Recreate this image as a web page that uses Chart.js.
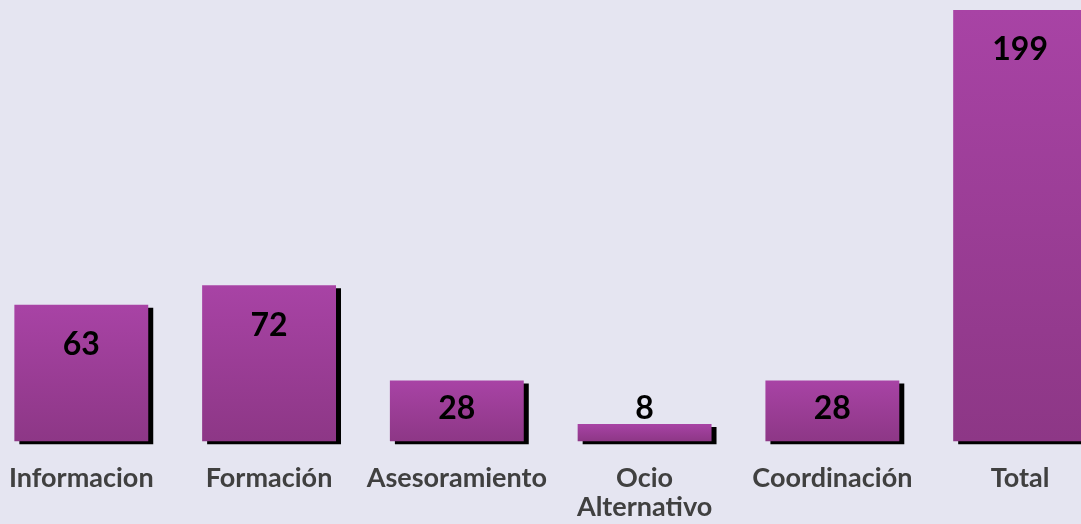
<!DOCTYPE html>
<html>
<head>
<meta charset="utf-8">
<script src="https://cdn.jsdelivr.net/npm/chart.js@4"></script>
<style>
  html, body { margin: 0; padding: 0; background: #E5E5F1; overflow: hidden; }
  #wrap { position: absolute; left: -14px; top: 0; width: 1128px; height: 544px; }
</style>
</head>
<body>
<div id="wrap"><canvas id="barras"></canvas></div>
<script>
// categorías y valores
const categorias = ['Informacion', 'Formación', 'Asesoramiento', ['Ocio', 'Alternativo'], 'Coordinación', 'Total'];
const valores = [63, 72, 28, 8, 28, 199];

const colorArriba = '#A843A5';
const colorAbajo = '#8D3786';

// degradado vertical por barra (de su tope a la base)
function rellenoBarra(ctx) {
  const chart = ctx.chart;
  const y = chart.scales.y;
  if (!y || ctx.raw == null) return colorArriba;
  const top = y.getPixelForValue(ctx.raw);
  const base = y.getPixelForValue(0);
  if (!isFinite(top) || !isFinite(base) || top === base) return colorArriba;
  const g = chart.ctx.createLinearGradient(0, top, 0, base);
  g.addColorStop(0, colorArriba);
  g.addColorStop(1, colorAbajo);
  return g;
}

// sombra negra desplazada detrás de las barras
const sombra = {
  id: 'sombra',
  beforeDatasetDraw(chart) {
    const c = chart.ctx;
    c.save();
    c.shadowColor = '#000000';
    c.shadowOffsetX = 5;
    c.shadowOffsetY = 3;
    c.shadowBlur = 0;
  },
  afterDatasetDraw(chart) {
    chart.ctx.restore();
  }
};

// etiquetas de valor dentro de la barra
const etiquetas = {
  id: 'etiquetas',
  afterDatasetsDraw(chart) {
    const c = chart.ctx;
    const meta = chart.getDatasetMeta(0);
    c.save();
    c.font = 'bold 32px Lato, "Open Sans", sans-serif';
    c.fillStyle = '#000000';
    c.textAlign = 'center';
    c.textBaseline = 'middle';
    meta.data.forEach((bar, i) => {
      const yPos = Math.min(bar.y + 40, bar.base - 33);
      c.fillText(String(valores[i]), bar.x, yPos);
    });
    c.restore();
  }
};

new Chart(document.getElementById('barras'), {
  type: 'bar',
  data: {
    labels: categorias,
    datasets: [{
      data: valores,
      backgroundColor: rellenoBarra,
      borderWidth: 0,
      clip: false,
      categoryPercentage: 1,
      barPercentage: 0.713
    }]
  },
  options: {
    responsive: true,
    maintainAspectRatio: false,
    animation: false,
    layout: { padding: { top: 10, bottom: 0, left: 0, right: 0 } },
    plugins: { legend: { display: false }, tooltip: { enabled: false } },
    scales: {
      x: {
        grid: { display: false, drawTicks: false },
        border: { display: false },
        ticks: {
          color: '#404040',
          font: { family: 'Lato, "Open Sans", sans-serif', size: 27, weight: 'bold', lineHeight: 1.05 },
          padding: 23,
          autoSkip: false,
          maxRotation: 0
        }
      },
      y: { display: false, min: 0, max: 199 }
    }
  },
  plugins: [sombra, etiquetas]
});
</script>
</body>
</html>
